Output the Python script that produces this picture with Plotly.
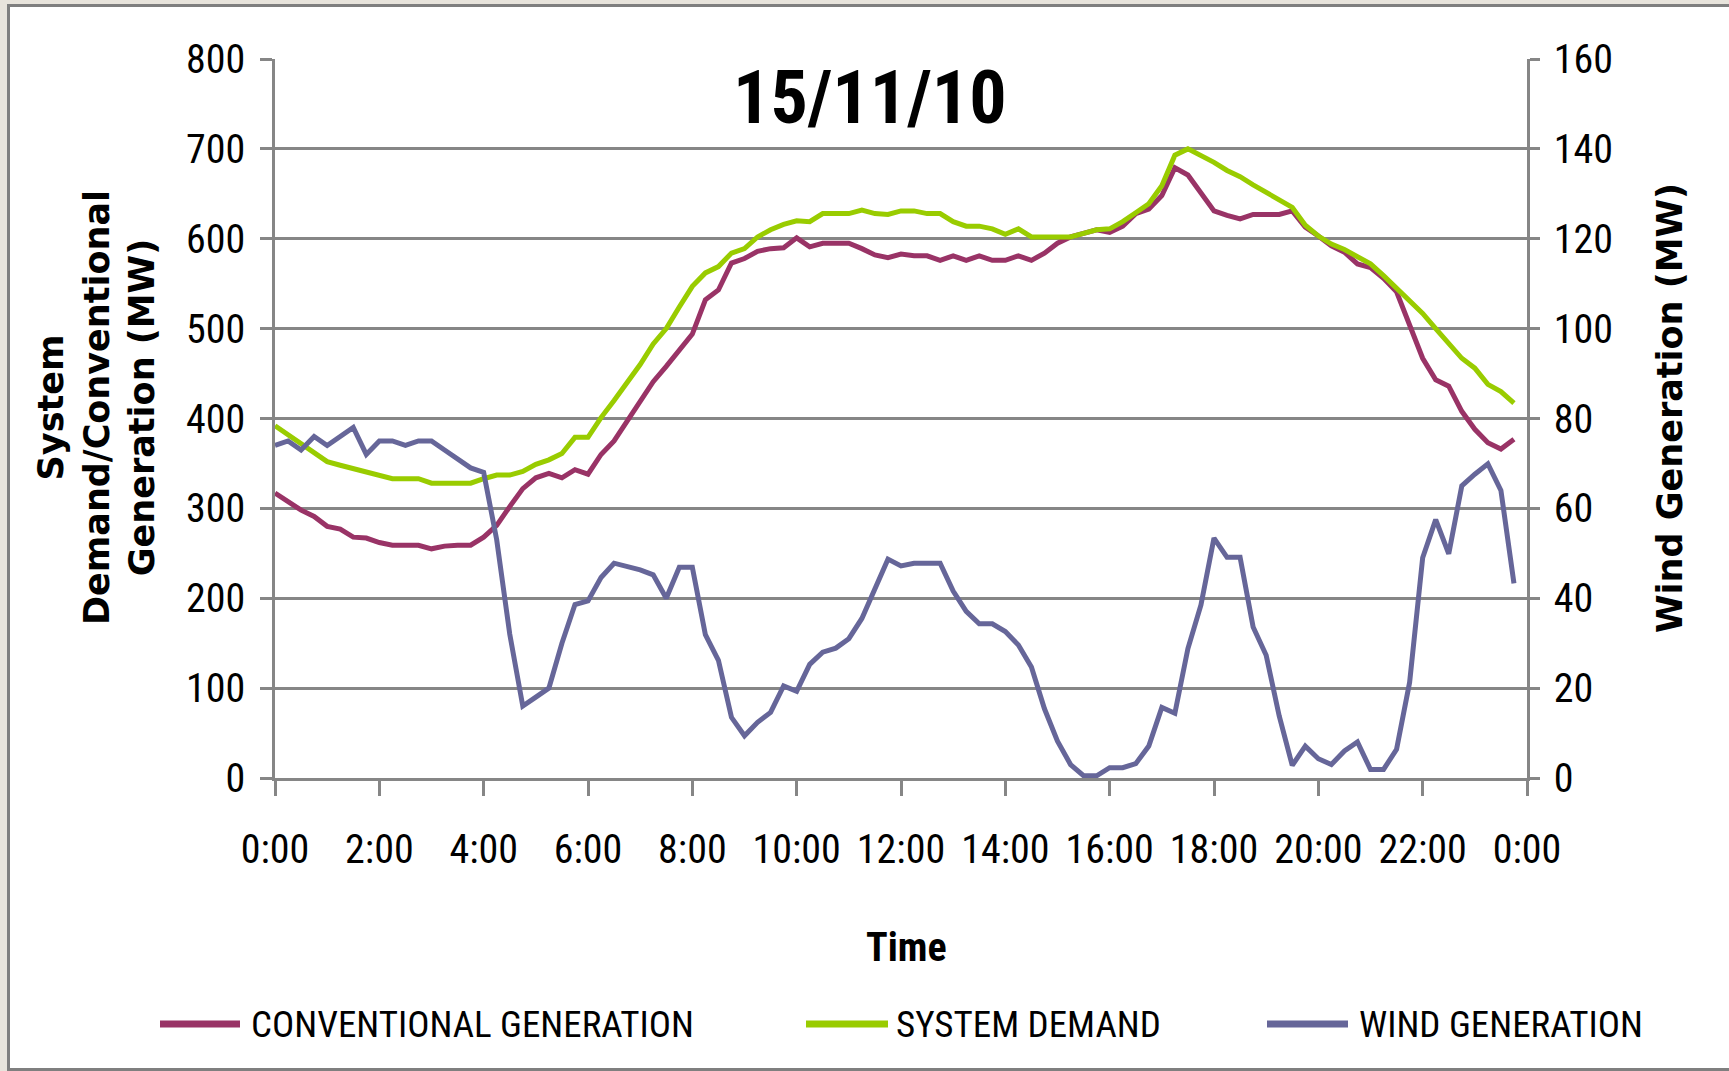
import plotly.graph_objects as go

# ---------------- data (15-minute intervals, 0:00 .. 23:45) ----------------
hours = [i / 4 for i in range(96)]

conventional_mw = [
    317, 307, 298, 291, 280, 277, 268, 267, 262, 259, 259, 259, 255, 258, 259, 259,
    268, 281, 302, 322, 334, 339, 334, 343, 338, 360, 375, 397, 418, 441, 458, 477,
    494, 532, 543, 573, 578, 586, 589, 590, 601, 591, 595, 595, 595, 589, 582, 579,
    583, 581, 581, 576, 581, 576, 581, 576, 576, 581, 576, 584, 595, 602, 606, 610,
    607, 614, 628, 633, 648, 679, 671, 651, 631, 626, 622, 627, 627, 627, 631, 613,
    603, 592, 585, 572, 568, 556, 541, 504, 467, 443, 436, 408, 388, 373, 366, 377,
]

system_demand_mw = [
    392, 382, 371, 361, 352, 348, 344, 341, 337, 333, 333, 333, 328, 328, 328, 328,
    333, 337, 337, 341, 349, 354, 361, 379, 379, 401, 420, 440, 460, 483, 500, 524,
    547, 562, 569, 584, 589, 602, 610, 616, 620, 619, 628, 628, 628, 632, 628, 627,
    631, 631, 628, 628, 619, 614, 614, 611, 605, 611, 602, 602, 602, 602, 606, 610,
    611, 619, 629, 639, 659, 693, 700, 693, 685, 676, 669, 660, 652, 644, 635, 615,
    603, 594, 588, 580, 572, 559, 545, 530, 517, 500, 484, 467, 456, 438, 430, 417,
]

wind_mw = [
    74, 75, 73, 76, 74, 76, 78, 72, 75, 75, 74, 75, 75, 73, 71, 69,
    68, 53, 32, 16, 18, 20, 30, 38.6, 39.4, 44.6, 47.8, 47, 46.3, 45.2, 40, 46.9,
    46.9, 31.9, 26.2, 13.5, 9.4, 12.4, 14.6, 20.5, 19.3, 25.3, 28, 28.9, 31, 35.5, 42.4, 48.7,
    47.2, 47.8, 47.8, 47.8, 41.6, 37.1, 34.3, 34.3, 32.6, 29.6, 24.7, 15.4, 8.2, 3,
    0.5, 0.5, 2.3, 2.3, 3.2, 7.1, 15.7, 14.4, 28.8, 38.5, 53.4, 49.1, 49.1, 33.6, 27.3, 13.8,
    2.8, 7.1, 4.3, 3, 6, 8, 1.9, 1.9, 6.4, 21.3, 49, 57.5, 49.9, 65, 67.6, 69.9, 64, 43.3,
]

x_tick_vals = [0, 2, 4, 6, 8, 10, 12, 14, 16, 18, 20, 22, 24]
x_tick_text = ["0:00", "2:00", "4:00", "6:00", "8:00", "10:00", "12:00",
               "14:00", "16:00", "18:00", "20:00", "22:00", "0:00"]

series_names = ["CONVENTIONAL GENERATION", "SYSTEM DEMAND", "WIND GENERATION"]
series_colors = ["#993366", "#99CC00", "#666699"]

# ---------------- layout geometry ----------------
W, H = 1729, 1071
ML, MR, MT, MB = 275, 202, 59, 293
PW, PH = W - ML - MR, H - MT - MB


def px2x(px):
    return (px - ML) / PW


def py2y(py):
    return (H - MB - py) / PH


NARROW = "Liberation Sans Narrow, Arial Narrow, Roboto Condensed, sans-serif"
BOLDF = "DejaVu Sans, Verdana, sans-serif"
GRID = "#868686"

fig = go.Figure()
fig.add_trace(go.Scatter(x=hours, y=conventional_mw, mode="lines", name=series_names[0],
                         line=dict(color=series_colors[0], width=5), yaxis="y"))
fig.add_trace(go.Scatter(x=hours, y=system_demand_mw, mode="lines", name=series_names[1],
                         line=dict(color=series_colors[1], width=5), yaxis="y"))
fig.add_trace(go.Scatter(x=hours, y=wind_mw, mode="lines", name=series_names[2],
                         line=dict(color=series_colors[2], width=5), yaxis="y2"))

shapes = [
    # white chart frame on the textured background
    dict(type="rect", xref="paper", yref="paper", layer="below",
         x0=px2x(8.5), x1=px2x(1760), y0=py2y(5.5), y1=py2y(1069.5),
         line=dict(color="#7f7f7f", width=3), fillcolor="white"),
]


def ann(text, px, py, size, family, angle=0, xanchor="center"):
    return dict(text=text, xref="paper", yref="paper", x=px2x(px), y=py2y(py),
                xanchor=xanchor, yanchor="middle", textangle=angle, showarrow=False,
                font=dict(family=family, size=size, color="black"))


annotations = [
    ann("<b>15/11/10</b>", 870, 98, 74, NARROW),
    ann("<b>Time</b>", 906, 947, 40, NARROW),
    ann("<b>System<br>Demand/Conventional<br>Generation (MW)</b>", 96, 408, 35, BOLDF, -90),
    ann("<b>Wind Generation (MW)</b>", 1670, 408, 35, BOLDF, -90),
]

# manual legend
leg_y = 1024
leg_line_x = [(160, 240), (806, 888), (1267, 1348)]
leg_text_x = [249, 894, 1357]
for name, color, (a, b), tx in zip(series_names, series_colors, leg_line_x, leg_text_x):
    shapes.append(dict(type="line", xref="paper", yref="paper",
                       x0=px2x(a), x1=px2x(b), y0=py2y(leg_y), y1=py2y(leg_y),
                       line=dict(color=color, width=7)))
    annotations.append(ann(name, tx, leg_y, 37, NARROW, xanchor="left"))

fig.update_layout(
    width=W, height=H,
    margin=dict(l=ML, r=MR, t=MT, b=MB),
    paper_bgcolor="#e8e4dc",
    plot_bgcolor="rgba(0,0,0,0)",
    showlegend=False,
    shapes=shapes,
    annotations=annotations,
    xaxis=dict(range=[0, 24], tickvals=x_tick_vals, ticktext=x_tick_text,
               showgrid=False, zeroline=False, showline=True, linecolor=GRID, linewidth=2.5,
               ticks="outside", ticklen=15, tickwidth=2.5, tickcolor=GRID,
               ticklabelstandoff=19,
               tickfont=dict(family=NARROW, size=40, color="black")),
    yaxis=dict(range=[0, 800], dtick=100, showgrid=True, gridcolor=GRID, gridwidth=2.5,
               zeroline=False, showline=True, linecolor=GRID, linewidth=2.5,
               ticks="outside", ticklen=12, tickwidth=2.5, tickcolor=GRID,
               ticklabelstandoff=7,
               tickfont=dict(family=NARROW, size=40, color="black")),
    yaxis2=dict(range=[0, 160], dtick=20, overlaying="y", side="right", showgrid=False,
                zeroline=False, showline=True, linecolor=GRID, linewidth=2.5,
                ticks="outside", ticklen=10, tickwidth=2.5, tickcolor=GRID,
                ticklabelstandoff=6,
                tickfont=dict(family=NARROW, size=40, color="black")),
)

fig.write_html("out.html", config={"displayModeBar": False},
               post_script="document.body.style.margin='0';")
